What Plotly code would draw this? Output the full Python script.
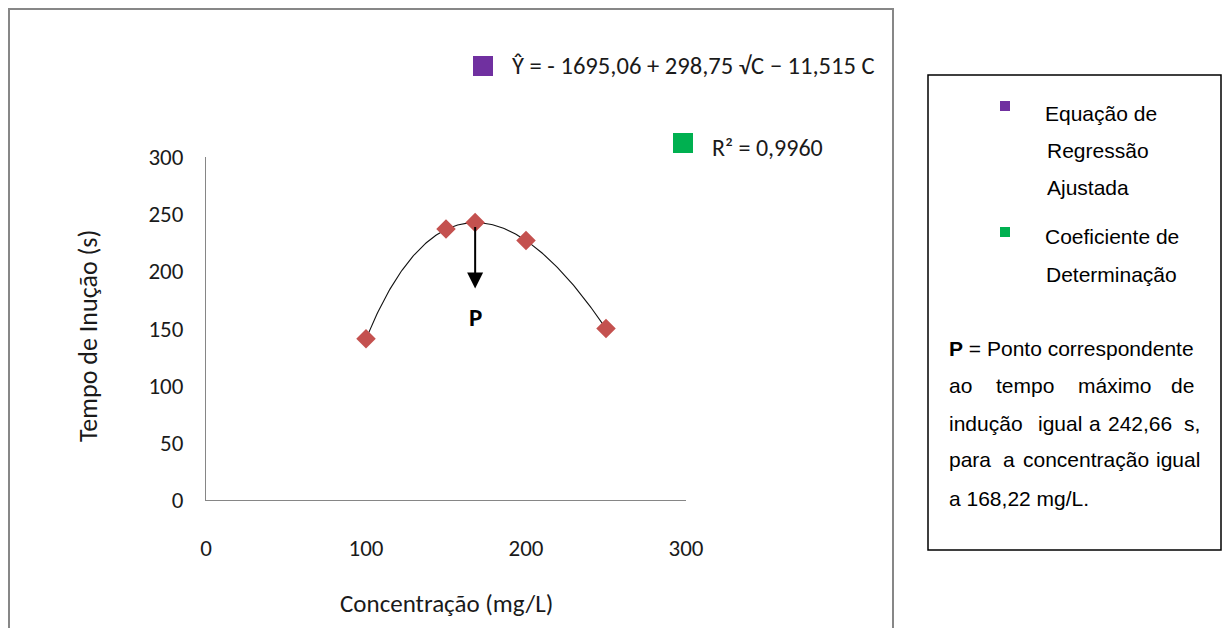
import numpy as np
import plotly.graph_objects as go

# Observed induction times (s) at each concentration (mg/L)
concentracao = [100, 150, 168.22, 200, 250]
tempo_inducao = [141, 237, 242.66, 227, 150]

# Fitted regression: Y = b0 + b1*sqrt(C) + b2*C
b0, b1, b2 = -1695.06, 298.75, -11.515
r2_text = "0,9960"

# Maximum point P
p_conc, p_tempo = 168.22, 242.66

x_ticks = [0, 100, 200, 300]
y_ticks = [0, 50, 100, 150, 200, 250, 300]

W, H = 1227, 628


def px(x):
    return x / W


def py(y):
    return 1 - y / H


CHART_FONT = "Carlito, Lato, sans-serif"
BOX_FONT = "Liberation Sans, Arial, sans-serif"
TXT = "#1a1a1a"

fig = go.Figure()

# fitted curve over the observed range
c_fit = np.linspace(min(concentracao), max(concentracao), 200)
y_fit = b0 + b1 * np.sqrt(c_fit) + b2 * c_fit
fig.add_trace(go.Scatter(
    x=c_fit, y=y_fit, mode="lines",
    line=dict(color="#111111", width=1.1),
    hoverinfo="skip", showlegend=False,
))

# observed points
fig.add_trace(go.Scatter(
    x=concentracao, y=tempo_inducao, mode="markers",
    marker=dict(symbol="diamond", size=15, color="#C4514F",
                line=dict(width=0)),
    showlegend=False,
))

annotations = []
shapes = []

# arrow pointing down from P
annotations.append(dict(
    x=p_conc, y=185, xref="x", yref="y",
    ax=p_conc, ay=p_tempo, axref="x", ayref="y",
    showarrow=True, arrowhead=2, arrowsize=1.6, arrowwidth=2,
    arrowcolor="#000000", startstandoff=3, text="",
))
annotations.append(dict(
    x=p_conc, y=160, xref="x", yref="y", showarrow=False,
    xanchor="center", yanchor="middle",
    text="<b>P</b>", font=dict(family=CHART_FONT, size=25, color="#000000"),
))

# equation and R²
shapes.append(dict(type="rect", xref="paper", yref="paper",
                   x0=px(473), x1=px(493), y0=py(76), y1=py(56),
                   fillcolor="#7030A0", line=dict(width=0)))
annotations.append(dict(
    x=px(510), y=py(66), xref="paper", yref="paper", xanchor="left",
    yanchor="middle", showarrow=False,
    text="Ŷ = - 1695,06 + 298,75 √C − 11,515 C",
    font=dict(family=CHART_FONT, size=24.6, color=TXT),
))
shapes.append(dict(type="rect", xref="paper", yref="paper",
                   x0=px(673), x1=px(693), y0=py(153), y1=py(133),
                   fillcolor="#00B050", line=dict(width=0)))
annotations.append(dict(
    x=px(710), y=py(147), xref="paper", yref="paper", xanchor="left",
    yanchor="middle", showarrow=False,
    text=f"R² = {r2_text}",
    font=dict(family=CHART_FONT, size=24, color=TXT),
))

# axis titles
annotations.append(dict(
    x=px(446), y=py(603), xref="paper", yref="paper", showarrow=False,
    xanchor="center", yanchor="middle",
    text="Concentração (mg/L)",
    font=dict(family=CHART_FONT, size=25, color=TXT),
))
annotations.append(dict(
    x=px(88), y=py(336), xref="paper", yref="paper", showarrow=False,
    xanchor="center", yanchor="middle",
    text="Tempo de Inução (s)", textangle=-90,
    font=dict(family=CHART_FONT, size=26, color=TXT),
))

# outer chart frame
shapes.append(dict(type="rect", xref="paper", yref="paper",
                   x0=px(9), x1=px(893), y0=py(650), y1=py(9),
                   line=dict(color="#878787", width=2)))

# side note box
shapes.append(dict(type="rect", xref="paper", yref="paper",
                   x0=px(928), x1=px(1221), y0=py(550), y1=py(75),
                   line=dict(color="#000000", width=1.5)))
shapes.append(dict(type="rect", xref="paper", yref="paper",
                   x0=px(1000), x1=px(1010), y0=py(111), y1=py(101),
                   fillcolor="#7030A0", line=dict(width=0)))
shapes.append(dict(type="rect", xref="paper", yref="paper",
                   x0=px(1000), x1=px(1010), y0=py(237), y1=py(227),
                   fillcolor="#00B050", line=dict(width=0)))

box_words = [
    ("Equação de", 1043, 113),
    ("Regressão", 1045, 150),
    ("Ajustada", 1045, 187),
    ("Coeficiente de", 1043, 237),
    ("Determinação", 1044, 274),
    ("<b>P</b> = Ponto correspondente", 947, 348),
    ("ao", 947, 385), ("tempo", 994, 385), ("máximo", 1076, 385), ("de", 1169, 385),
    ("indução", 947, 423), ("igual", 1036, 423), ("a", 1087, 423),
    ("242,66", 1106, 423), ("s,", 1182, 423),
    ("para", 947, 460), ("a", 1001, 460), ("concentração", 1021, 460),
    ("igual", 1154, 460),
    ("a 168,22 mg/L.", 947, 498),
]
for txt, x, y in box_words:
    annotations.append(dict(
        x=px(x), y=py(y), xref="paper", yref="paper", xanchor="left",
        yanchor="middle", showarrow=False, text=txt,
        font=dict(family=BOX_FONT, size=21, color="#000000"),
    ))

fig.update_layout(
    width=W, height=H,
    margin=dict(l=0, r=0, t=0, b=0, autoexpand=False),
    paper_bgcolor="white", plot_bgcolor="white",
    showlegend=False,
    shapes=shapes, annotations=annotations,
    xaxis=dict(
        domain=[px(206), px(686)], range=[0, 300], automargin=False,
        tickvals=x_ticks, ticktext=[str(v) for v in x_ticks],
        showgrid=False, zeroline=False, showline=True,
        linecolor="#868686", linewidth=1, ticks="",
        ticklabelstandoff=27,
        tickfont=dict(family=CHART_FONT, size=23, color=TXT),
    ),
    yaxis=dict(
        domain=[py(500), py(157)], range=[0, 300], automargin=False,
        tickvals=y_ticks, ticktext=[str(v) for v in y_ticks],
        showgrid=False, zeroline=False, showline=True,
        linecolor="#868686", linewidth=1, ticks="",
        ticklabelstandoff=17,
        tickfont=dict(family=CHART_FONT, size=23, color=TXT),
    ),
)

fig.write_html("out.html")
